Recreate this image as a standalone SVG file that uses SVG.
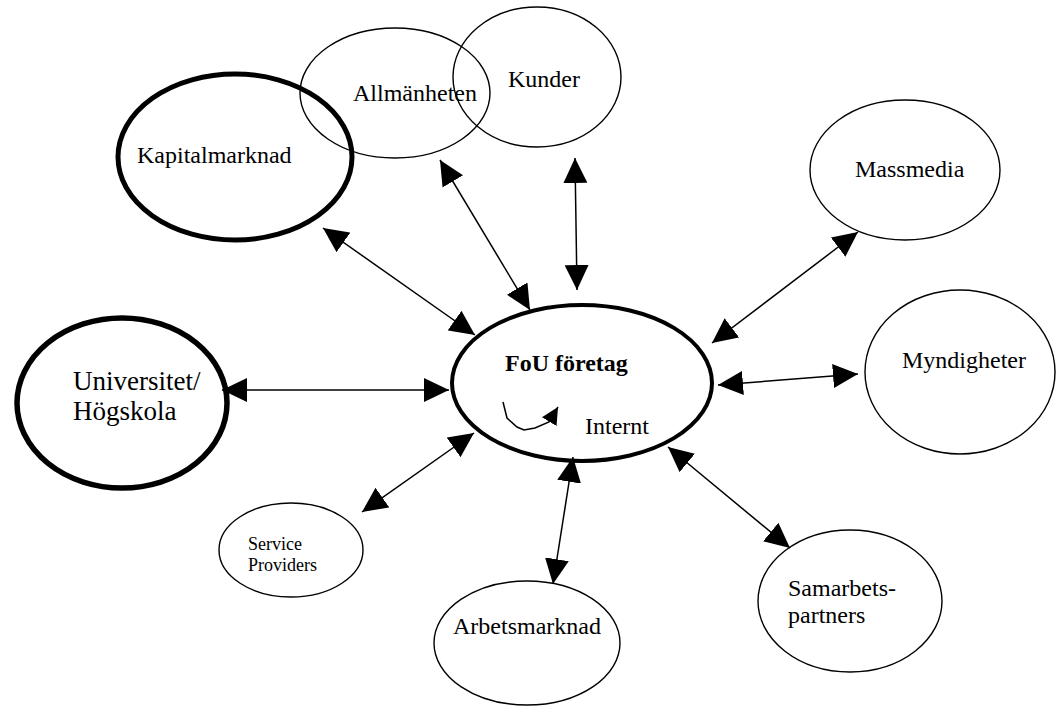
<svg xmlns="http://www.w3.org/2000/svg" width="1056" height="706" viewBox="0 0 1056 706">
  <style>
    .thin { fill: none; stroke: #000; stroke-width: 1.4; }
    .bold3 { fill: none; stroke: #000; stroke-width: 4; }
    .bold4 { fill: none; stroke: #000; stroke-width: 5; }
    .lbl { font-family: "Liberation Serif", "Times New Roman", serif; font-size: 24px; fill: #000; }
    .big { font-size: 27px; }
    .small { font-size: 18px; }
    .strong { font-weight: bold; }
    .link { fill: none; stroke: #000; stroke-width: 1.5; marker-start: url(#ah); marker-end: url(#ah); }
    .loop { fill: none; stroke: #000; stroke-width: 1.5; marker-end: url(#ahs); }
  </style>
  <defs>
    <marker id="ah" viewBox="0 0 25 24" refX="25" refY="12" markerWidth="25" markerHeight="24" markerUnits="userSpaceOnUse" orient="auto-start-reverse">
      <path d="M0,0 L25,12 L0,24 Z" fill="#000"/>
    </marker>
    <marker id="ahs" viewBox="0 0 17 17" refX="17" refY="8.5" markerWidth="17" markerHeight="17" markerUnits="userSpaceOnUse" orient="auto">
      <path d="M0,0 L17,8.5 L0,17 Z" fill="#000"/>
    </marker>
  </defs>
  <rect width="1056" height="706" fill="#fff"/>

  <!-- connectors -->
  <g id="connectors">
    <line class="link" x1="323" y1="228" x2="475" y2="335"/>
    <line class="link" x1="440" y1="160" x2="530" y2="310"/>
    <line class="link" x1="575" y1="158" x2="577" y2="290"/>
    <line class="link" x1="858" y1="232" x2="712" y2="343"/>
    <line class="link" x1="858" y1="374" x2="718" y2="385"/>
    <line class="link" x1="668" y1="447" x2="790" y2="548"/>
    <line class="link" x1="573" y1="457" x2="553" y2="584"/>
    <line class="link" x1="474" y1="433" x2="362" y2="512"/>
    <line class="link" x1="222" y1="390" x2="449" y2="390"/>
  </g>

  <g id="kunder">
    <ellipse class="thin" cx="537" cy="77" rx="84" ry="70"/>
    <text class="lbl" x="508" y="87">Kunder</text>
  </g>

  <g id="allmanheten">
    <ellipse class="thin" cx="395" cy="93" rx="95" ry="65"/>
    <text class="lbl" x="353" y="101">Allmänheten</text>
  </g>

  <g id="kapitalmarknad">
    <ellipse class="bold4" cx="235" cy="157" rx="117" ry="83"/>
    <text class="lbl" x="137" y="163">Kapitalmarknad</text>
  </g>

  <g id="massmedia">
    <ellipse class="thin" cx="905" cy="170" rx="95" ry="70"/>
    <text class="lbl" x="855" y="177">Massmedia</text>
  </g>

  <g id="myndigheter">
    <ellipse class="thin" cx="960" cy="372" rx="95" ry="82"/>
    <text class="lbl" x="902" y="368">Myndigheter</text>
  </g>

  <g id="universitet">
    <ellipse class="bold4" cx="122" cy="403" rx="105" ry="85" style="stroke-width:5.5"/>
    <text class="lbl big" x="73" y="390">Universitet/</text>
    <text class="lbl big" x="73" y="420">Högskola</text>
  </g>

  <g id="fou">
    <ellipse class="bold3" cx="582" cy="383" rx="130" ry="78"/>
    <text class="lbl strong" x="505" y="371">FoU företag</text>
    <polyline class="loop" points="503,402 507,418 517,427 524,430 535,428 549,422 558,407"/>
    <text class="lbl" x="585" y="434">Internt</text>
  </g>

  <g id="service">
    <ellipse class="thin" cx="291" cy="550" rx="72" ry="47"/>
    <text class="lbl small" x="248" y="550">Service</text>
    <text class="lbl small" x="248" y="571">Providers</text>
  </g>

  <g id="arbetsmarknad">
    <ellipse class="thin" cx="527" cy="643" rx="93" ry="62"/>
    <text class="lbl" x="453" y="634">Arbetsmarknad</text>
  </g>

  <g id="samarbetspartners">
    <ellipse class="thin" cx="850" cy="601" rx="92" ry="71"/>
    <text class="lbl" x="788" y="596">Samarbets-</text>
    <text class="lbl" x="788" y="623">partners</text>
  </g>
</svg>
